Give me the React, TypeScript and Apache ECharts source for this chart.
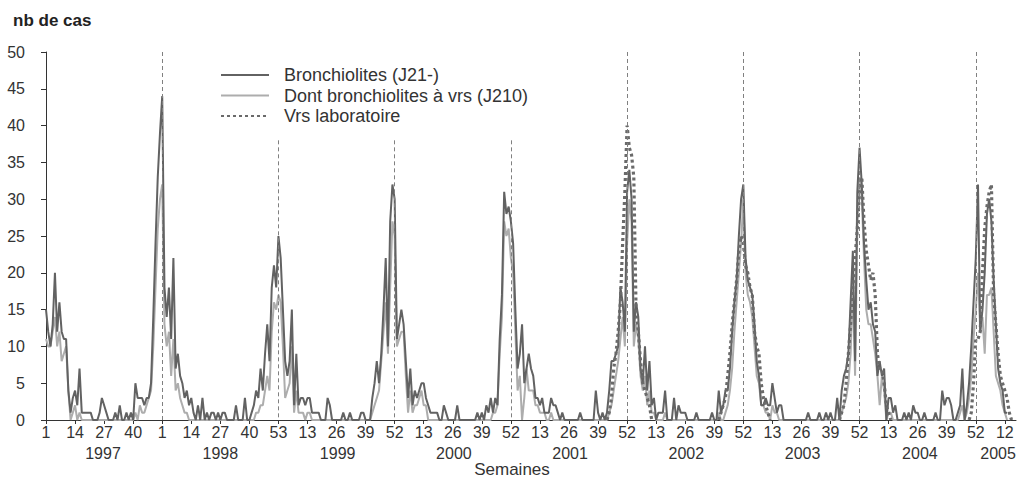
import React, { useEffect, useRef } from 'react';
import * as echarts from 'echarts';

const FONT = "'Liberation Sans', Arial, Helvetica, sans-serif";

const years = [1997, 1998, 1999, 2000, 2001, 2002, 2003, 2004, 2005];
const weeksPerYear = [52, 53, 52, 52, 52, 52, 52, 53, 17];

// Bronchiolites (J21-)
const bronchio1997 = [15,12,10,13,20,12,16,12,11,11, 4,1,3,4,2,7,1,1,1,1, 1,0,0,0,1,3,2,1,0,0, 0,1,0,2,0,0,1,0,1,0, 5,3,3,3,2,3,3,5,14,24, 33,39];
const bronchio1998 = [44,18,14,18,11,22,7,9,6,5, 3,4,2,3,1,0,2,0,3,0, 1,0,1,1,0,1,0,1,1,0, 0,0,0,2,0,0,0,3,0,0, 1,2,4,3,7,4,9,13,8,18, 21,18,25];
const bronchio1999 = [22,15,8,6,8,15,2,9,2,3, 3,2,3,3,1,1,1,1,0,0, 0,3,2,0,0,0,0,0,1,0, 0,1,0,0,0,0,1,1,0,0, 0,3,5,8,5,9,15,22,10,27, 32,30];
const bronchio2000 = [11,13,15,13,8,3,7,2,4,3, 4,5,5,3,2,1,1,1,1,0, 0,2,1,0,0,0,0,2,0,0, 0,0,0,0,0,0,1,0,1,0, 2,1,3,1,3,2,11,17,31,28, 29,27];
const bronchio2001 = [24,15,7,9,13,5,7,9,7,6, 3,3,2,3,1,1,1,3,2,2, 1,0,1,0,0,0,0,0,0,0, 1,0,0,0,0,0,0,4,1,0, 1,0,1,4,8,8,9,10,18,16, 12,31];
const bronchio2002 = [34,30,12,16,14,7,5,10,4,8, 2,3,0,1,1,1,4,0,0,0, 3,0,2,1,1,1,0,0,0,0, 1,0,0,0,0,0,0,1,0,0, 4,1,2,4,4,7,12,16,19,25, 30,32];
const bronchio2003 = [22,19,18,17,13,8,6,2,2,3, 2,2,5,3,1,2,2,0,0,0, 0,0,0,0,0,0,0,0,1,0, 0,0,0,1,0,0,1,0,1,0, 0,3,0,4,6,7,9,16,23,8, 31,37];
const bronchio2004 = [32,24,19,15,16,13,12,6,8,6, 7,0,3,3,1,2,0,0,0,1, 0,1,0,2,1,1,0,0,1,0, 0,0,0,1,0,0,4,2,3,3, 2,0,0,1,2,7,0,2,5,10, 16,22,32];
const bronchio2005 = [12,15,20,28,30,27,19,13,7,5, 4,1,1];

// Dont bronchiolites à vrs (J210)
const vrsBronchio1997 = [11,10,10,12,14,10,12,8,9,10, 4,0,1,2,0,1,0,0,0,0, 0,0,0,0,0,0,0,0,0,0, 0,0,0,0,0,0,0,0,0,0, 1,0,2,1,1,2,3,4,10,18, 26,30];
const vrsBronchio1998 = [32,13,10,12,6,11,4,5,3,2, 1,1,0,0,0,0,0,0,0,0, 0,0,0,0,0,0,0,0,0,0, 0,0,0,0,0,0,0,0,0,0, 0,0,1,1,2,2,4,6,4,12, 16,15,17];
const vrsBronchio1999 = [16,10,3,4,5,10,1,4,1,1, 1,0,1,1,0,0,0,0,0,0, 0,0,0,0,0,0,0,0,0,0, 0,0,0,0,0,0,0,0,0,0, 0,1,2,3,4,8,12,16,9,18, 27,25];
const vrsBronchio2000 = [10,11,12,12,6,1,4,1,2,2, 3,4,2,2,0,0,0,0,0,0, 0,0,0,0,0,0,0,0,0,0, 0,0,0,0,0,0,0,0,0,0, 0,0,0,1,1,2,9,14,27,25, 26,22];
const vrsBronchio2001 = [20,12,4,6,0,3,7,4,4,4, 2,2,1,1,1,0,0,1,0,0, 0,0,0,0,0,0,0,0,0,0, 0,0,0,0,0,0,0,0,0,0, 0,0,0,1,2,4,6,8,11,14, 10,24];
const vrsBronchio2002 = [30,27,10,13,11,6,4,6,2,4, 1,1,0,0,0,0,1,0,0,0, 0,0,0,0,0,0,0,0,0,0, 0,0,0,0,0,0,0,0,0,0, 1,0,0,1,2,4,7,12,16,20, 24,30];
const vrsBronchio2003 = [20,17,16,14,10,6,5,2,2,1, 1,0,2,1,1,0,0,0,0,0, 0,0,0,0,0,0,0,0,0,0, 0,0,0,0,0,0,0,0,0,0, 0,0,0,1,2,3,5,9,18,6, 26,33];
const vrsBronchio2004 = [30,22,15,13,13,11,9,6,2,6, 4,0,1,1,0,0,0,0,0,0, 0,0,0,0,0,0,0,0,0,0, 0,0,0,0,0,0,0,0,0,0, 0,0,0,0,1,2,0,1,3,6, 11,15,20];
const vrsBronchio2005 = [12,14,9,17,17,18,12,6,5,4, 2,1,0];

// Vrs laboratoire (seasons only)
const labo2001_02 = { from: '2001-43', values: [0,1,3,7,9,12,16,24,31,40, 37,36,33,15,12,8,5,4,3,2,0] };
const labo2002_03 = { from: '2002-41', values: [0,1,2,3,6,9,13,16,19,23,25,24, 21,20,18,17,12,10,9,5,3,2,1,0] };
const labo2003_04 = { from: '2003-43', values: [0,1,2,5,9,13,18,22,26,31, 33,27,23,21,19,20,17,9,7,7,5,2,1,0] };
const labo2004_05 = { from: '2004-49', values: [0,1,5,11,11, 12,20,26,29,31,32,17,13,9,6,5,4,3,1,0] };

const dashedWeeks = ['1998-1', '1998-53', '1999-52', '2000-52', '2001-52', '2002-52', '2003-52', '2004-52'];
const dashedTops = [50, 38, 38, 38, 50, 50, 50, 50];

const seriesNames = ['Bronchiolites (J21-)', 'Dont bronchiolites à vrs (J210)', 'Vrs laboratoire'];

const categories: string[] = [];
years.forEach((y, i) => {
  for (let w = 1; w <= weeksPerYear[i]; w++) categories.push(`${y}-${w}`);
});

const bronchio = [
  ...bronchio1997, ...bronchio1998, ...bronchio1999, ...bronchio2000, ...bronchio2001,
  ...bronchio2002, ...bronchio2003, ...bronchio2004, ...bronchio2005,
];
const vrsBronchio = [
  ...vrsBronchio1997, ...vrsBronchio1998, ...vrsBronchio1999, ...vrsBronchio2000, ...vrsBronchio2001,
  ...vrsBronchio2002, ...vrsBronchio2003, ...vrsBronchio2004, ...vrsBronchio2005,
];
const labo: (number | null)[] = categories.map(() => null);
[labo2001_02, labo2002_03, labo2003_04, labo2004_05].forEach((s) => {
  const start = categories.indexOf(s.from);
  s.values.forEach((v, k) => { labo[start + k] = v; });
});

export default function App() {
  const ref = useRef<HTMLDivElement>(null);
  useEffect(() => {
    if (!ref.current) return;
    const chart = echarts.init(ref.current, undefined, { renderer: 'svg' });
    const axisColor = '#333';
    chart.setOption({
      animation: false,
      textStyle: { fontFamily: FONT },
      title: {
        text: 'nb de cas', left: 8, top: 7,
        textStyle: { fontFamily: FONT, fontSize: 17, fontWeight: 'bold', color: '#222' },
      },
      legend: {
        data: seriesNames,
        orient: 'vertical', left: 215, top: 61,
        itemWidth: 48, itemHeight: 14, itemGap: 2.5,
        itemStyle: { color: 'rgba(0,0,0,0)', borderWidth: 0, opacity: 0 },
        textStyle: { fontFamily: FONT, fontSize: 18, color: '#333', padding: [0, 0, 0, 10] },
      },
      grid: { left: 46, right: 4, top: 52, bottom: 59 },
      xAxis: {
        type: 'category', data: categories, boundaryGap: false,
        axisLine: { lineStyle: { color: axisColor, width: 1 } },
        axisTick: { interval: 12, length: 4, lineStyle: { color: axisColor } },
        axisLabel: {
          interval: 12, margin: 4, fontSize: 16, color: '#333', fontFamily: FONT,
          formatter: (v: string) => v.split('-')[1],
        },
        splitLine: { show: false },
      },
      yAxis: {
        type: 'value', min: 0, max: 50, interval: 5,
        axisLine: { show: true, lineStyle: { color: axisColor, width: 1 } },
        axisTick: { show: true, length: 5, lineStyle: { color: axisColor } },
        axisLabel: { fontSize: 16, color: '#333', margin: 21, fontFamily: FONT },
        splitLine: { show: false },
      },
      series: [
        {
          name: seriesNames[1], type: 'line', data: vrsBronchio, symbol: 'none',
          lineStyle: { color: '#adadad', width: 2 }, itemStyle: { color: '#adadad' }, z: 2,
        },
        {
          name: seriesNames[0], type: 'line', data: bronchio, symbol: 'none',
          lineStyle: { color: '#626262', width: 2 }, itemStyle: { color: '#626262' }, z: 3,
          markLine: {
            silent: true, symbol: ['none', 'none'], label: { show: false },
            lineStyle: { color: '#808080', width: 1, type: [4, 3] },
            data: dashedWeeks.map((w, i) => [
              { xAxis: w, yAxis: dashedTops[i] },
              { xAxis: w, yAxis: 0 },
            ]),
          },
        },
        {
          name: seriesNames[2], type: 'line', data: labo, symbol: 'none', connectNulls: false,
          lineStyle: { color: '#6a6a6a', width: 3.2, type: [3, 3] }, itemStyle: { color: '#6a6a6a' }, z: 4,
        },
      ],
    });

    let start = 0;
    const yearTexts = years.map((y, i) => {
      const s = start;
      const e = start + weeksPerYear[i] - 1;
      start += weeksPerYear[i];
      const x0 = chart.convertToPixel({ xAxisIndex: 0 }, categories[s]) as number;
      const x1 = chart.convertToPixel({ xAxisIndex: 0 }, categories[e]) as number;
      return {
        type: 'text', x: (x0 + x1) / 2, y: 453,
        style: { text: String(y), fontSize: 16, fontFamily: FONT, fill: '#333', align: 'center', verticalAlign: 'middle' },
      };
    });
    chart.setOption({
      graphic: [
        ...yearTexts,
        {
          type: 'text', x: 512, y: 469,
          style: { text: 'Semaines', fontSize: 17, fontFamily: FONT, fill: '#333', align: 'center', verticalAlign: 'middle' },
        },
      ],
    });

    return () => chart.dispose();
  }, []);
  return <div ref={ref} style={{ position: 'absolute', left: 0, top: 0, width: 1020, height: 479 }} />;
}
